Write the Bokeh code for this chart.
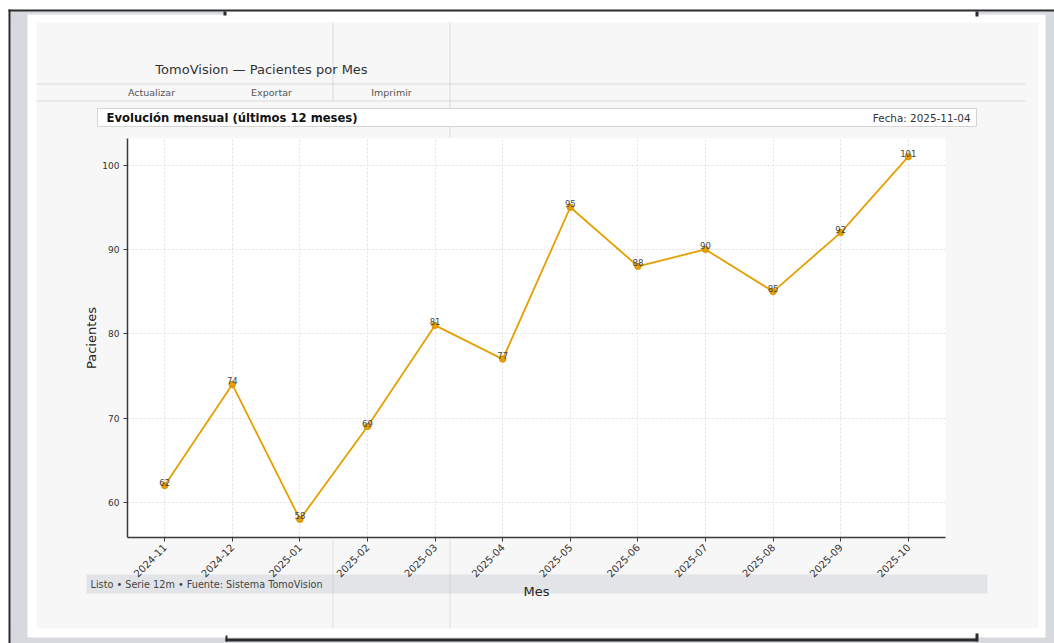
import math

from bokeh.core.properties import value
from bokeh.embed import file_html
from bokeh.layouts import column
from bokeh.models import (ColumnDataSource, FactorRange, FixedTicker, GridBox,
                          Range1d)
from bokeh.plotting import figure
from bokeh.resources import INLINE

# ---- data -----------------------------------------------------------------
months = ["2024-11", "2024-12", "2025-01", "2025-02", "2025-03", "2025-04",
          "2025-05", "2025-06", "2025-07", "2025-08", "2025-09", "2025-10"]
patients = [62, 74, 58, 69, 81, 77, 95, 88, 90, 85, 92, 101]
y_ticks = [60, 70, 80, 90, 100]

app_title = "TomoVision — Pacientes por Mes"
menu_items = ["Actualizar", "Exportar", "Imprimir"]
panel_title = "Evolución mensual (últimos 12 meses)"
date_text = "Fecha: 2025-11-04"
status_text = "Listo • Serie 12m • Fuente: Sistema TomoVision"

# ---- page geometry ----------------------------------------------------------
W, H = 1054, 643
FRAME_L, FRAME_R, FRAME_T, FRAME_B = 127, 945, 138, 537

ORANGE = "#E69F00"
PANEL = "#f7f7f7"
GREY = "#d6d9dd"
DARK = "#2b2b2b"
FONT = "DejaVu Sans"

# ---- chart --------------------------------------------------------------------
span = max(patients) - min(patients)
p = figure(
    width=W, height=H,
    x_range=FactorRange(*months, range_padding=0.05,
                        range_padding_units="absolute"),
    y_range=Range1d(min(patients) - 0.05 * span, max(patients) + 0.05 * span),
    output_backend="svg", toolbar_location=None,
    min_border_left=FRAME_L, min_border_right=W - FRAME_R,
    min_border_top=FRAME_T, min_border_bottom=H - FRAME_B,
)
p.background_fill_color = "white"
p.border_fill_color = PANEL
p.outline_line_color = None

src = ColumnDataSource(dict(month=months, n=patients,
                            txt=[str(v) for v in patients]))
p.line("month", "n", source=src, line_color=ORANGE, line_width=1.8)
p.scatter("month", "n", source=src, size=6.5, fill_color=ORANGE,
          line_color="#d18f00", line_width=0.8)
p.text("month", "n", text="txt", source=src, text_align="center",
       text_baseline="bottom", text_font=value(FONT),
       text_font_size=value("8.5px"), text_color="#444444")

p.xaxis.axis_label = "Mes"
p.yaxis.axis_label = "Pacientes"
p.yaxis.ticker = FixedTicker(ticks=y_ticks)
p.xaxis.major_label_orientation = math.pi / 4
for ax in (p.xaxis[0], p.yaxis[0]):
    ax.axis_line_color = "#3a3a3a"
    ax.axis_line_width = 1.5
    ax.major_tick_line_color = "#3a3a3a"
    ax.major_tick_out = 4
    ax.major_tick_in = 0
    ax.minor_tick_line_color = None
    ax.major_label_standoff = 4
    ax.major_label_text_font = FONT
    ax.major_label_text_color = "#333333"
    ax.axis_label_text_font = FONT
    ax.axis_label_text_font_size = "13px"
    ax.axis_label_text_font_style = "normal"
    ax.axis_label_text_color = "#222222"
    ax.axis_label_standoff = 0
p.xaxis.major_label_text_font_size = "10px"
p.yaxis.major_label_text_font_size = "9px"

for g in (p.xgrid[0], p.ygrid[0]):
    g.grid_line_color = "#d9d9d9"
    g.grid_line_dash = "2 2"
    g.grid_line_width = 0.8

# ---- window chrome: transparent pixel-space layer over the chart ------------
bg = figure(width=W, height=H, x_range=Range1d(0, W), y_range=Range1d(H, 0),
            x_axis_type=None, y_axis_type=None, output_backend="svg",
            toolbar_location=None, min_border=0)
bg.outline_line_color = None
bg.background_fill_color = None
bg.border_fill_color = None

# (left, top, right, bottom, colour, alpha) in page pixels
chrome = [
    # white margin and page around the app panel
    (0, 0, W, 22, "white", 1.0),
    (0, 628, W, H, "white", 1.0),
    (0, 22, 36, 628, "white", 1.0),
    (1038, 22, W, 628, "white", 1.0),
    # grey window strips
    (10, 11, 27, H, GREY, 1.0),
    (10, 11, 225, 14, GREY, 1.0),
    (978, 11, W, 14, GREY, 1.0),
    (1045, 11, W, H, GREY, 1.0),
    (10, 637, W, H, GREY, 1.0),
    # dark borders
    (8, 9, W, 11, DARK, 1.0),
    (8, 9, 10, H, DARK, 1.0),
    (223, 11, 226, 15, DARK, 1.0),
    (975, 11, 978, 16, DARK, 1.0),
    (225, 638, 977, 641, DARK, 1.0),
    (225, 635, 227, 641, DARK, 1.0),
    (975, 633, 978, 641, DARK, 1.0),
    # menu separators and layout guides
    (36, 83, 1025, 84, "black", 0.11),
    (36, 100, 1025, 101, "black", 0.11),
    (332, 22, 333, 100, "black", 0.11),
    (449, 22, 450, 137, "black", 0.11),
    (332, 538, 333, 628, "black", 0.09),
    (449, 538, 450, 628, "black", 0.09),
    # status bar
    (86, 574, 987, 593, "#2f4361", 0.1),
]
bg.quad(left=[c[0] for c in chrome], top=[c[1] for c in chrome],
        right=[c[2] for c in chrome], bottom=[c[3] for c in chrome],
        fill_color=[c[4] for c in chrome], fill_alpha=[c[5] for c in chrome],
        line_color=None)

# header strip
bg.quad(left=[97], top=[108], right=[976], bottom=[126],
        fill_color="white", line_color="#d4d4d4", line_width=1)


def caption(x, y, text, size, color, align="left", style="normal"):
    bg.text(x=[x], y=[y], text=[text], text_font=value(FONT),
            text_font_size=value(size), text_color=color,
            text_align=align, text_baseline="middle",
            text_font_style=style)


caption(261, 69, app_title, "13px", "#333333", align="center")
for cx, item in zip([151, 271, 391], menu_items):
    caption(cx, 92, item, "9.5px", "#555555", align="center")
caption(106, 117, panel_title, "11.6px", "#111111", style="bold")
caption(970, 117, date_text, "10.4px", "#333333", align="right")
caption(90, 584, status_text, "9.7px", "#444444")

# both layers share one grid cell; the chrome keeps its own full-page frame
page = GridBox(children=[(p, 0, 0), (column(bg), 0, 0)])

open("out.html", "w").write(file_html(page, INLINE))
